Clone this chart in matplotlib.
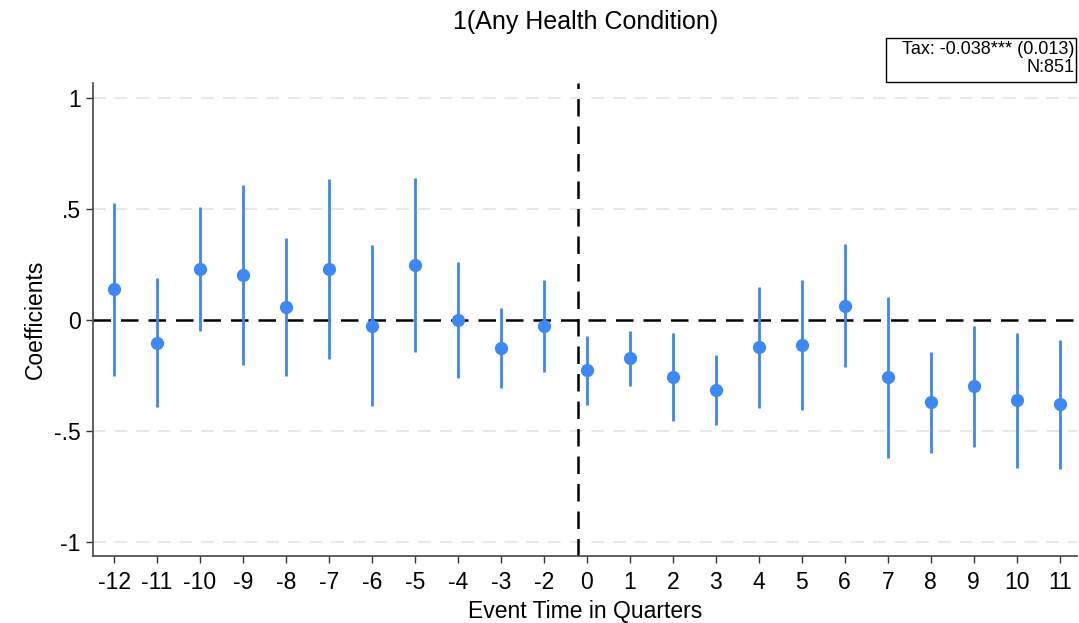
import matplotlib.pyplot as plt
from matplotlib.patches import Rectangle

plt.rcParams['font.family'] = ['Liberation Sans', 'DejaVu Sans']

# event-time labels (-1 is the omitted reference quarter)
periods = ['-12', '-11', '-10', '-9', '-8', '-7', '-6', '-5', '-4', '-3', '-2',
           '0', '1', '2', '3', '4', '5', '6', '7', '8', '9', '10', '11']
coef = [0.138, -0.102, 0.230, 0.203, 0.059, 0.230, -0.026, 0.249, 0.000, -0.128, -0.026,
        -0.227, -0.173, -0.257, -0.315, -0.123, -0.111, 0.065, -0.258, -0.371, -0.299, -0.362, -0.378]
ci_hi = [0.526, 0.188, 0.508, 0.607, 0.368, 0.635, 0.336, 0.638, 0.260, 0.053, 0.180,
         -0.071, -0.050, -0.060, -0.159, 0.149, 0.180, 0.341, 0.104, -0.143, -0.029, -0.060, -0.090]
ci_lo = [-0.251, -0.390, -0.048, -0.203, -0.252, -0.176, -0.386, -0.143, -0.263, -0.306, -0.233,
         -0.384, -0.296, -0.456, -0.471, -0.395, -0.404, -0.210, -0.622, -0.601, -0.572, -0.665, -0.670]
yticks = [1, 0.5, 0, -0.5, -1]
ytick_labels = ['1', '.5', '0', '-.5', '-1']

blue = '#3d88f5'
x = list(range(len(periods)))

fig = plt.figure(figsize=(10.79, 6.23), dpi=100)
ax = fig.add_axes([0.0862, 0.1075, 0.9118, 0.7593])

# light grid
for yv in yticks:
    if yv != 0:
        ax.axhline(yv, color='#e6e6e6', lw=1.3, dashes=(7, 5), zorder=0)

ax.axhline(0, color='black', lw=1.8, dashes=(7, 4), zorder=1)
ax.axvline(10.8, color='black', lw=1.8, dashes=(7, 4), zorder=1)

ax.vlines(x, ci_lo, ci_hi, color=blue, lw=2.0, zorder=2)
ax.plot(x, coef, 'o', color=blue, ms=8.5, zorder=3)

ax.set_xlim(-0.49, 22.4)
ax.set_ylim(-1.063, 1.068)
ax.set_xticks(x)
ax.set_xticklabels(periods)
ax.set_yticks(yticks)
ax.set_yticklabels(ytick_labels)
ax.tick_params(axis='both', labelsize=16.5, length=5, width=1, direction='out', color='#333333')
ax.tick_params(axis='x', pad=6)
ax.tick_params(axis='y', pad=4)

for side in ['top', 'right']:
    ax.spines[side].set_visible(False)
for side in ['left', 'bottom']:
    ax.spines[side].set_color('#444444')
    ax.spines[side].set_linewidth(1.2)

ax.set_xlabel('Event Time in Quarters', fontsize=16.5, labelpad=4)
ax.set_ylabel('Coefficients', fontsize=16.5, labelpad=5)
fig.text(0.543, 0.965, '1(Any Health Condition)', ha='center', va='center', fontsize=18)

# estimate box in top right
fig.add_artist(Rectangle((886 / 1079, 1 - 82 / 623), 190 / 1079, 44 / 623,
                         transform=fig.transFigure, fill=False, ec='black', lw=1.0))
fig.text(1074 / 1079, 1 - 49 / 623, 'Tax: -0.038*** (0.013)', ha='right', va='center', fontsize=13)
fig.text(1074 / 1079, 1 - 68 / 623, 'N:851', ha='right', va='center', fontsize=13)

fig.savefig('out.png', dpi=100)
